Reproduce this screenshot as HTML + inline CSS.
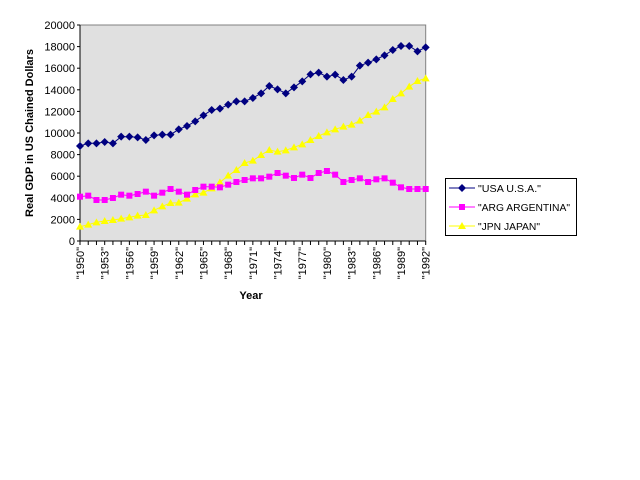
<!DOCTYPE html>
<html><head><meta charset="utf-8"><style>
html,body{margin:0;padding:0;background:#fff;}
svg{display:block;font-family:"Liberation Sans",Arial,sans-serif;}
</style></head><body>
<svg id="s" width="640" height="480" xmlns="http://www.w3.org/2000/svg">
<rect x="0" y="0" width="640" height="480" fill="#fff"/>
<rect x="80" y="25" width="345.7" height="216" fill="#e0e0e0" stroke="#808080" stroke-width="1"/>
<g id="g"></g>
<text transform="translate(33,133) rotate(-90)" text-anchor="middle" font-size="11" font-weight="bold">Real GDP in US Chained Dollars</text>
<text x="251" y="299" text-anchor="middle" font-size="11" font-weight="bold">Year</text>
<rect x="445.5" y="178.5" width="131" height="57" fill="#fff" stroke="#000" stroke-width="1"/>
<line x1="449" y1="188" x2="475" y2="188" stroke="#000080" stroke-width="1"/>
<polygon points="462,184 466,188 462,192 458,188" fill="#000080"/>
<text x="478" y="192" font-size="10.5" textLength="63" lengthAdjust="spacingAndGlyphs">"USA U.S.A."</text>
<line x1="449" y1="207" x2="475" y2="207" stroke="#ff00ff" stroke-width="1"/>
<rect x="459" y="204" width="6" height="6" fill="#ff00ff"/>
<text x="478" y="211" font-size="10.5" textLength="92" lengthAdjust="spacingAndGlyphs">"ARG ARGENTINA"</text>
<line x1="449" y1="226" x2="475" y2="226" stroke="#ffff00" stroke-width="1"/>
<polygon points="462,222 466,229 458,229" fill="#ffff00"/>
<text x="478" y="230" font-size="10.5" textLength="62" lengthAdjust="spacingAndGlyphs">"JPN JAPAN"</text>
</svg>
<script>
var NS="http://www.w3.org/2000/svg",g=document.getElementById('g');
function el(t,a,txt){var e=document.createElementNS(NS,t);for(var k in a)e.setAttribute(k,a[k]);if(txt)e.textContent=txt;g.appendChild(e);return e;}
var x0=80,dx=345.7/42;
var usa=[408,400,400,396,400,380,380,382,390,376,374,374,358,348,334,316,300,296,284,274,274,264,250,228,238,250,232,214,193,188,200,194,210,200,167,158,148,136,120,108,108,124,112];
var arg=[560,557,570,570,564,554,557,552,545,557,548,537,545,554,540,530,530,532,524,516,510,505,505,500,489,497,504,494,504,489,483,494,516,510,505,516,508,505,518,532,537,537,537];
var jpn=[650,644,637,633,630,626,622,617,615,601,589,579,578,566,553,548,535,517,497,480,459,452,435,420,425,421,412,403,390,378,367,358,350,344,332,315,305,292,267,250,230,213,205];
for(var i=0;i<=10;i++){var y=241-i*21.6;el('line',{x1:77,y1:y,x2:80,y2:y,stroke:'#000'});el('text',{x:75,y:y+4,'text-anchor':'end','font-size':11},String(i*2000));}
el('line',{x1:80,y1:25,x2:80,y2:241,stroke:'#000'});
el('line',{x1:80,y1:241,x2:425.7,y2:241,stroke:'#000'});
for(var i=0;i<43;i++){var x=x0+i*dx;el('line',{x1:x,y1:241,x2:x,y2:245,stroke:'#000'});
 if(i%3==0){el('text',{transform:'translate('+(x+4)+',247) rotate(-90)','text-anchor':'end','font-size':11},'"'+(1950+i)+'"');}}
function series(d,col,mk){var p=[];for(var i=0;i<d.length;i++)p.push((x0+i*dx).toFixed(1)+','+(10+d[i]/3).toFixed(1));
 el('polyline',{points:p.join(' '),fill:'none',stroke:col,'stroke-width':1});
 for(var i=0;i<d.length;i++){var x=x0+i*dx,y=10+d[i]/3;
  if(mk==0)el('polygon',{points:x+','+(y-4)+' '+(x+4)+','+y+' '+x+','+(y+4)+' '+(x-4)+','+y,fill:col});
  else if(mk==1)el('rect',{x:x-3,y:y-3,width:6,height:6,fill:col});
  else el('polygon',{points:x+','+(y-4)+' '+(x+4)+','+(y+3)+' '+(x-4)+','+(y+3),fill:col});}}
series(jpn,'#ffff00',2);series(arg,'#ff00ff',1);series(usa,'#000080',0);
</script>
</body></html>
